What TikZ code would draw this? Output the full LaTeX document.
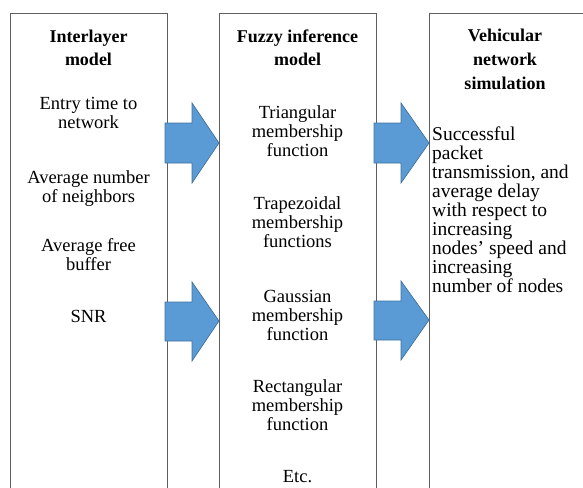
\documentclass[tikz,border=0pt]{standalone}
\usepackage{fontspec}
\setmainfont{Liberation Serif}
\definecolor{boxline}{HTML}{5F5F5F}
\definecolor{arrowfill}{HTML}{5B9BD5}
\definecolor{arrowline}{HTML}{41719C}
\begin{document}
\begin{tikzpicture}[x=1pt,y=-1pt,
  panel/.style={draw=boxline, line width=0.9pt},
  blockarrow/.style={fill=arrowfill, draw=arrowline, line width=0.7pt, line join=miter},
  title/.style={font=\bfseries\fontsize{18}{23.7}\selectfont, align=center, inner sep=0pt, anchor=base},
  body/.style={font=\fontsize{18.5}{19}\selectfont, align=center, inner sep=0pt, anchor=base},
  bodyleft/.style={font=\fontsize{19.5}{19}\selectfont, align=left, inner sep=0pt, anchor=base west},
]
\useasboundingbox (0,0) rectangle (583,487);
% panels (open at the bottom / right, cut by the page)
\draw[panel] (10,500) -- (10,13) -- (167,13) -- (167,500);
\draw[panel] (219,500) -- (219,13) -- (376,13) -- (376,500);
\draw[panel] (429,500) -- (429,13) -- (600,13);
% left panel texts (anchor = baseline of the last line)
\node[title] (t1) at (88.5,66) {Interlayer\\model};
\node[body] (a1) at (88.5,128) {Entry time to\\network};
\node[body] (a2) at (88.5,202) {Average number\\of neighbors};
\node[body] (a3) at (88.5,270) {Average free\\buffer};
\node[body] (a4) at (88.5,322) {SNR};
% middle panel texts
\node[title] (t2) at (297.5,66) {Fuzzy inference\\model};
\node[body] (b1) at (297.5,156) {Triangular\\membership\\function};
\node[body] (b2) at (297.5,247) {Trapezoidal\\membership\\functions};
\node[body] (b3) at (297.5,340) {Gaussian\\membership\\function};
\node[body] (b4) at (297.5,430) {Rectangular\\membership\\function};
\node[body] (b5) at (297.5,482) {Etc.};
% right panel texts
\node[title] (t3) at (505,89) {Vehicular\\network\\simulation};
\node[bodyleft] (c1) at (432,292) {Successful\\packet\\transmission, and\\average delay\\with respect to\\increasing\\nodes’ speed and\\increasing\\number of nodes};
% block arrows
\filldraw[blockarrow] (165,123) -- (192,123) -- (192,103) -- (219,143) -- (192,183) -- (192,163) -- (165,163) -- cycle;
\filldraw[blockarrow] (165,302) -- (192,302) -- (192,282) -- (219,321) -- (192,361) -- (192,341) -- (165,341) -- cycle;
\filldraw[blockarrow] (374,123) -- (401,123) -- (401,103) -- (429,143) -- (401,183) -- (401,163) -- (374,163) -- cycle;
\filldraw[blockarrow] (374,301) -- (401,301) -- (401,281) -- (429,320) -- (401,360) -- (401,340) -- (374,340) -- cycle;
\end{tikzpicture}
\end{document}
